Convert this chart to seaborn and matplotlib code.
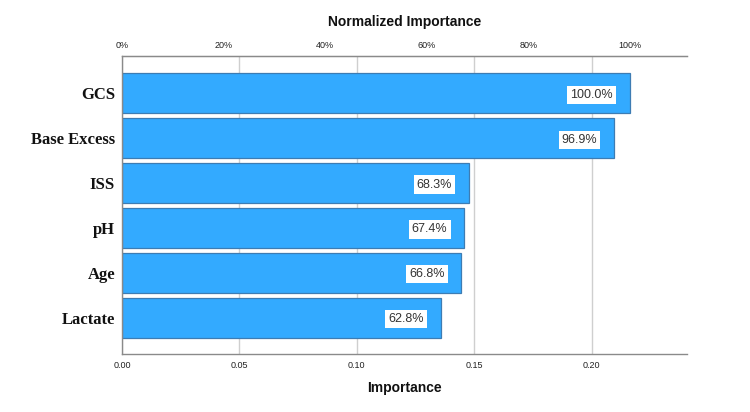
import seaborn as sns
import matplotlib.pyplot as plt
import numpy as np
import pandas as pd

# data
predictors = ['GCS', 'Base Excess', 'ISS', 'pH', 'Age', 'Lactate']
normalized = [100.0, 96.9, 68.3, 67.4, 66.8, 62.8]   # percent
top_importance = 0.2164                                # importance of GCS
importance = [top_importance * p / 100 for p in normalized]

df = pd.DataFrame({'predictor': predictors, 'importance': importance, 'pct': normalized})

sns.set_style("white")
plt.rcParams['font.family'] = ['Liberation Sans', 'DejaVu Sans']
fig = plt.figure(figsize=(7.5, 4.12), dpi=100)
ax = fig.add_axes([0.1627, 0.140, 0.7529, 0.7248])

sns.barplot(data=df, x='importance', y='predictor', orient='h', color='#33aaff',
            edgecolor='#3d7cb3', linewidth=0.9, width=0.893, saturation=1, ax=ax)

ax.set_xlim(0, 0.2405)
ax.set_ylim(5.82, -0.84)

# bottom axis
ax.set_xticks([0.0, 0.05, 0.10, 0.15, 0.20])
ax.set_xticklabels(['0.00', '0.05', '0.10', '0.15', '0.20'])
ax.tick_params(axis='x', length=0, pad=5, labelsize=6.5, colors='#222222')
ax.tick_params(axis='y', length=0, pad=5)
ax.grid(axis='x', color='#cfcfcf', linewidth=1)
ax.set_axisbelow(True)
for lbl in ax.get_yticklabels():
    lbl.set_fontfamily('Liberation Serif')
    lbl.set_fontweight('bold')
    lbl.set_fontsize(12)
    lbl.set_color('#111111')
ax.set_ylabel('')
ax.set_xlabel('Importance', fontsize=10, fontweight='bold', labelpad=8, color='#111111')

for side in ['left', 'bottom', 'top']:
    ax.spines[side].set_color('#8a8a8a')
    ax.spines[side].set_linewidth(1)
ax.spines['right'].set_visible(False)

# top axis: normalized importance
ax2 = ax.twiny()
ax2.set_xlim(ax.get_xlim())
pct_ticks = [0, 20, 40, 60, 80, 100]
ax2.set_xticks([top_importance * p / 100 for p in pct_ticks])
ax2.set_xticklabels([f'{p}%' for p in pct_ticks])
ax2.tick_params(axis='x', length=0, pad=4, labelsize=6.5, colors='#222222')
ax2.set_xlabel('Normalized Importance', fontsize=10, fontweight='bold', labelpad=11, color='#111111')
for side in ['left', 'right', 'bottom']:
    ax2.spines[side].set_visible(False)
ax2.spines['top'].set_color('#8a8a8a')

# percent labels inside the bars
for i, row in df.iterrows():
    ax.annotate(f"{row['pct']:.1f}%", xy=(row['importance'], i), xytext=(-17, 0),
                textcoords='offset pixels', ha='right', va='center_baseline',
                fontsize=9, color='#333333',
                bbox=dict(boxstyle='square,pad=0.25', fc='white', ec='none'))

fig.savefig('out.png', dpi=100)
